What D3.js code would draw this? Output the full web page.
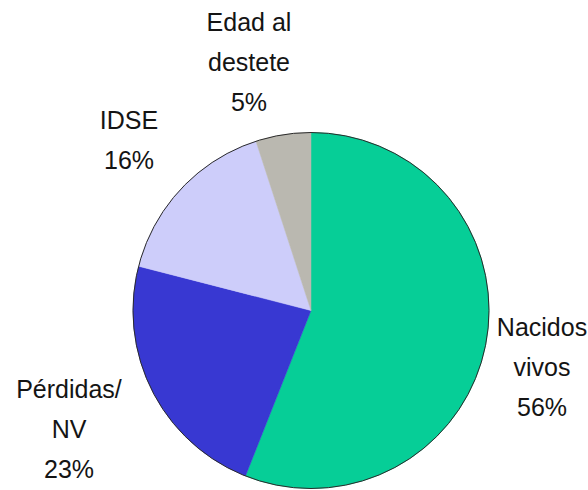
<!DOCTYPE html>
<html>
<head>
<meta charset="utf-8">
<script src="https://cdn.jsdelivr.net/npm/d3@7"></script>
<style>
  html, body { margin: 0; padding: 0; background: #ffffff; }
  svg { display: block; }
  text { font-family: "Liberation Sans", Arial, sans-serif; }
</style>
</head>
<body>
<div id="chart"></div>
<script>
// Composición de los componentes (porcentaje del total)
const categories = ["Nacidos vivos", "Pérdidas/ NV", "IDSE", "Edad al destete"];
const values = [56, 23, 16, 5];
// Texto de cada etiqueta, línea por línea
const labelLines = [
  ["Nacidos", "vivos"],
  ["Pérdidas/", "NV"],
  ["IDSE"],
  ["Edad al", "destete"]
];
const colors = ["#06CE97", "#3838D2", "#CDCDFA", "#BAB8B0"];

const width = 588, height = 490;
const cx = 311, cy = 310.5, radius = 178;
// centro de cada bloque de etiqueta, relativo al centro del gráfico
const labelOffset = [[231, 56.5], [-242, 118.5], [-182, -170.5], [-62, -248.5]];
const fontSize = 25, lineGap = 40;

const svg = d3.select("#chart").append("svg")
  .attr("width", width).attr("height", height);

const g = svg.append("g").attr("transform", `translate(${cx},${cy})`);

const data = categories.map((c, i) => ({ name: c, value: values[i], idx: i }));

const pie = d3.pie().sort(null).value(d => d.value)
  .startAngle(0).endAngle(2 * Math.PI);
const arcs = pie(data);

const arc = d3.arc().innerRadius(0).outerRadius(radius);

g.selectAll("path.slice")
  .data(arcs)
  .join("path")
  .attr("class", "slice")
  .attr("d", arc)
  .attr("fill", (d, i) => colors[i])
  .attr("stroke", (d, i) => colors[i])
  .attr("stroke-width", 0.5);

// contorno exterior
g.append("circle")
  .attr("r", radius)
  .attr("fill", "none")
  .attr("stroke", "#2a2a2a")
  .attr("stroke-width", 1);

// etiquetas: nombre + porcentaje junto a cada sector
const labels = g.selectAll("g.label")
  .data(arcs)
  .join("g")
  .attr("class", "label")
  .attr("transform", (d, i) => `translate(${labelOffset[i][0]},${labelOffset[i][1]})`);

labels.each(function(d, i) {
  const lines = labelLines[i].concat([d3.format(".0f")(d.data.value) + "%"]);
  const n = lines.length;
  d3.select(this).selectAll("text")
    .data(lines)
    .join("text")
    .attr("text-anchor", "middle")
    .attr("x", 0)
    .attr("y", (t, k) => (k - (n - 1) / 2) * lineGap + fontSize * 0.36)
    .attr("font-size", fontSize)
    .attr("fill", "#141414")
    .text(t => t);
});
</script>
</body>
</html>
